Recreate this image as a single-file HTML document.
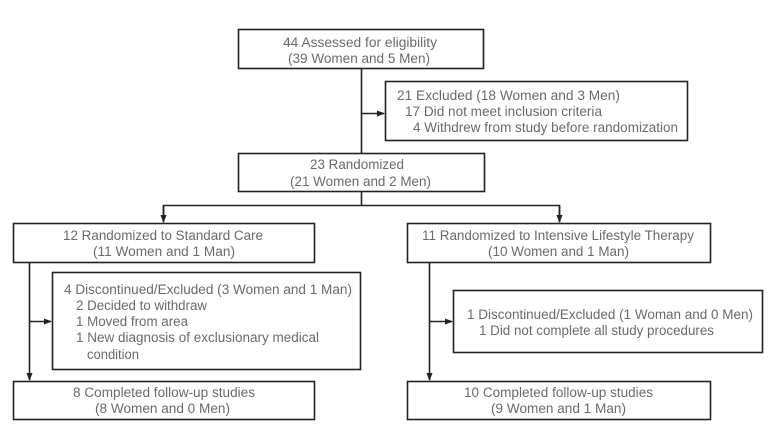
<!DOCTYPE html>
<html><head><meta charset="utf-8"><style>
html,body{margin:0;padding:0;background:#fff;}
svg{display:block;}
text{font-family:"Liberation Sans",Arial,sans-serif;font-size:13.5px;fill:#6a6a6a;}
</style></head><body>
<svg width="775" height="445" viewBox="0 0 775 445" xmlns="http://www.w3.org/2000/svg">
<defs><marker id="a" markerWidth="8" markerHeight="6" refX="7" refY="3" orient="auto" markerUnits="userSpaceOnUse"><path d="M0,0 L8,3 L0,6 z" fill="#222"/></marker></defs>
<g fill="none" stroke="#222" stroke-width="1.6">
<rect x="238.5" y="29.5" width="245" height="39"/>
<rect x="385.5" y="81.5" width="302" height="59"/>
<rect x="238.5" y="153.5" width="246" height="38"/>
<rect x="13.5" y="223.5" width="301" height="39"/>
<rect x="407.5" y="223.5" width="303" height="39"/>
<rect x="52.5" y="272.5" width="308" height="97"/>
<rect x="453.5" y="290.5" width="309" height="62"/>
<rect x="13.5" y="381.5" width="301" height="38"/>
<rect x="407.5" y="381.5" width="303" height="38"/>
<line x1="361.5" y1="69" x2="361.5" y2="153"/>
<line x1="361.5" y1="113.5" x2="384" y2="113.5" marker-end="url(#a)"/>
<line x1="361.5" y1="192" x2="361.5" y2="205.5"/>
<polyline points="163.5,222 163.5,205.5 559.5,205.5 559.5,222"/>
<line x1="163.5" y1="206" x2="163.5" y2="222" marker-end="url(#a)"/>
<line x1="559.5" y1="206" x2="559.5" y2="222" marker-end="url(#a)"/>
<line x1="29.5" y1="263" x2="29.5" y2="380" marker-end="url(#a)"/>
<line x1="29.5" y1="321.5" x2="51" y2="321.5" marker-end="url(#a)"/>
<line x1="429.5" y1="263" x2="429.5" y2="380" marker-end="url(#a)"/>
<line x1="429.5" y1="321.5" x2="452" y2="321.5" marker-end="url(#a)"/>
</g>
<g>
<text x="283" y="47" textLength="154" lengthAdjust="spacingAndGlyphs">44 Assessed for eligibility</text>
<text x="288" y="63" textLength="142" lengthAdjust="spacingAndGlyphs">(39 Women and 5 Men)</text>
<text x="397" y="100" textLength="223" lengthAdjust="spacingAndGlyphs">21 Excluded (18 Women and 3 Men)</text>
<text x="405" y="116" textLength="197" lengthAdjust="spacingAndGlyphs">17 Did not meet inclusion criteria</text>
<text x="413" y="132" textLength="265" lengthAdjust="spacingAndGlyphs">4 Withdrew from study before randomization</text>
<text x="310" y="169" textLength="94" lengthAdjust="spacingAndGlyphs">23 Randomized</text>
<text x="290" y="186" textLength="141" lengthAdjust="spacingAndGlyphs">(21 Women and 2 Men)</text>
<text x="63" y="240" textLength="200" lengthAdjust="spacingAndGlyphs">12 Randomized to Standard Care</text>
<text x="93" y="256" textLength="142" lengthAdjust="spacingAndGlyphs">(11 Women and 1 Man)</text>
<text x="422" y="240" textLength="272" lengthAdjust="spacingAndGlyphs">11 Randomized to Intensive Lifestyle Therapy</text>
<text x="488" y="256" textLength="141" lengthAdjust="spacingAndGlyphs">(10 Women and 1 Man)</text>
<text x="64" y="294" textLength="288" lengthAdjust="spacingAndGlyphs">4 Discontinued/Excluded (3 Women and 1 Man)</text>
<text x="76" y="310" textLength="131" lengthAdjust="spacingAndGlyphs">2 Decided to withdraw</text>
<text x="76" y="326" textLength="112" lengthAdjust="spacingAndGlyphs">1 Moved from area</text>
<text x="76" y="342" textLength="243" lengthAdjust="spacingAndGlyphs">1 New diagnosis of exclusionary medical</text>
<text x="87" y="359" textLength="52" lengthAdjust="spacingAndGlyphs">condition</text>
<text x="467" y="319" textLength="286" lengthAdjust="spacingAndGlyphs">1 Discontinued/Excluded (1 Woman and 0 Men)</text>
<text x="479" y="335" textLength="235" lengthAdjust="spacingAndGlyphs">1 Did not complete all study procedures</text>
<text x="73" y="397" textLength="182" lengthAdjust="spacingAndGlyphs">8 Completed follow-up studies</text>
<text x="95" y="413" textLength="135" lengthAdjust="spacingAndGlyphs">(8 Women and 0 Men)</text>
<text x="464" y="397" textLength="189" lengthAdjust="spacingAndGlyphs">10 Completed follow-up studies</text>
<text x="491" y="413" textLength="135" lengthAdjust="spacingAndGlyphs">(9 Women and 1 Man)</text>
</g>
</svg>
</body></html>
